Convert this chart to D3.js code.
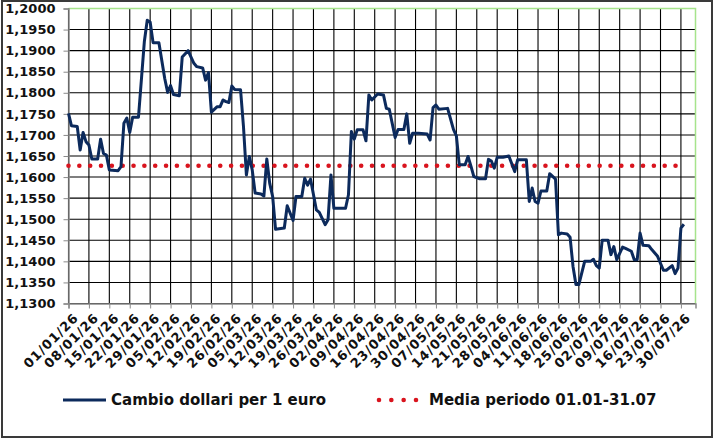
<!DOCTYPE html>
<html>
<head>
<meta charset="utf-8">
<script src="https://cdn.jsdelivr.net/npm/d3@7"></script>
<style>
  body { margin: 0; background: #fff; }
  text { font-family: "DejaVu Sans", Verdana, sans-serif; font-weight: bold; fill: #111; }
</style>
</head>
<body>
<div id="chart"></div>
<script>
// giorni rilevati (dd/mm/yy) e cambio dollari per 1 euro
var dates = [
  "01/01/26","02/01/26","04/01/26","05/01/26","06/01/26","07/01/26","08/01/26","09/01/26","11/01/26","12/01/26",
  "13/01/26","14/01/26","15/01/26","18/01/26","19/01/26","20/01/26","21/01/26","22/01/26","23/01/26","25/01/26",
  "27/01/26","28/01/26","29/01/26","30/01/26","01/02/26","03/02/26","04/02/26","05/02/26","06/02/26","08/02/26",
  "09/02/26","11/02/26","13/02/26","14/02/26","16/02/26","17/02/26","18/02/26","19/02/26","21/02/26","22/02/26",
  "23/02/26","24/02/26","25/02/26","26/02/26","27/02/26","01/03/26","02/03/26","03/03/26","04/03/26","05/03/26",
  "06/03/26","08/03/26","09/03/26","10/03/26","11/03/26","12/03/26","13/03/26","16/03/26","17/03/26","19/03/26",
  "20/03/26","22/03/26","23/03/26","24/03/26","25/03/26","27/03/26","28/03/26","30/03/26","31/03/26","01/04/26",
  "02/04/26","06/04/26","07/04/26","08/04/26","09/04/26","10/04/26","12/04/26","13/04/26","14/04/26","15/04/26",
  "17/04/26","19/04/26","20/04/26","21/04/26","23/04/26","24/04/26","26/04/26","27/04/26","28/04/26","29/04/26",
  "01/05/26","04/05/26","05/05/26","06/05/26","07/05/26","08/05/26","11/05/26","13/05/26","14/05/26","15/05/26",
  "17/05/26","18/05/26","19/05/26","20/05/26","22/05/26","24/05/26","25/05/26","26/05/26","27/05/26","28/05/26",
  "30/05/26","01/06/26","03/06/26","04/06/26","07/06/26","08/06/26","09/06/26","10/06/26","11/06/26","12/06/26",
  "14/06/26","15/06/26","17/06/26","18/06/26","19/06/26","21/06/26","22/06/26","23/06/26","24/06/26","25/06/26",
  "27/06/26","29/06/26","30/06/26","01/07/26","02/07/26","03/07/26","05/07/26","06/07/26","07/07/26","08/07/26",
  "10/07/26","11/07/26","13/07/26","14/07/26","15/07/26","16/07/26","17/07/26","19/07/26","20/07/26","22/07/26",
  "24/07/26","25/07/26","27/07/26","28/07/26","29/07/26","30/07/26","31/07/26"
];
var rates = [
  1.1751,1.1722,1.1720,1.1664,1.1706,1.1684,1.1676,1.1643,1.1643,1.1690,
  1.1656,1.1652,1.1617,1.1615,1.1625,1.1728,1.1740,1.1706,1.1742,1.1742,
  1.1921,1.1972,1.1968,1.1919,1.1919,1.1834,1.1801,1.1817,1.1796,1.1793,
  1.1885,1.1900,1.1870,1.1862,1.1859,1.1830,1.1848,1.1754,1.1767,1.1767,
  1.1783,1.1779,1.1777,1.1816,1.1808,1.1807,1.1720,1.1605,1.1649,1.1617,
  1.1562,1.1560,1.1555,1.1643,1.1585,1.1554,1.1476,1.1479,1.1532,1.1497,
  1.1554,1.1554,1.1597,1.1581,1.1595,1.1522,1.1516,1.1487,1.1499,1.1605,
  1.1526,1.1526,1.1558,1.1708,1.1690,1.1712,1.1712,1.1686,1.1795,1.1783,
  1.1797,1.1795,1.1763,1.1761,1.1694,1.1713,1.1713,1.1750,1.1680,1.1704,
  1.1704,1.1702,1.1688,1.1765,1.1771,1.1761,1.1763,1.1713,1.1698,1.1629,
  1.1629,1.1649,1.1626,1.1601,1.1596,1.1596,1.1642,1.1638,1.1621,1.1647,
  1.1647,1.1650,1.1613,1.1641,1.1641,1.1542,1.1574,1.1542,1.1538,1.1567,
  1.1567,1.1608,1.1595,1.1463,1.1467,1.1465,1.1457,1.1388,1.1345,1.1345,
  1.1400,1.1400,1.1405,1.1390,1.1384,1.1450,1.1450,1.1416,1.1435,1.1404,
  1.1434,1.1431,1.1424,1.1404,1.1404,1.1467,1.1438,1.1437,1.1428,1.1412,
  1.1379,1.1379,1.1390,1.1371,1.1384,1.1479,1.1488
];

// media del periodo 01.01-31.07
var mediaPeriodo = 1.1627;

// etichette asse x (settimanali) e asse y
var tickLabels = [
  "01/01/26","08/01/26","15/01/26","22/01/26","29/01/26","05/02/26","12/02/26","19/02/26",
  "26/02/26","05/03/26","12/03/26","19/03/26","26/03/26","02/04/26","09/04/26","16/04/26",
  "23/04/26","30/04/26","07/05/26","14/05/26","21/05/26","28/05/26","04/06/26","11/06/26",
  "18/06/26","25/06/26","02/07/26","09/07/26","16/07/26","23/07/26","30/07/26"
];
var yTicks = [1.13,1.135,1.14,1.145,1.15,1.155,1.16,1.165,1.17,1.175,1.18,1.185,1.19,1.195,1.2];
var axisEnd = "04/08/26";

var serieNome = "Cambio dollari per 1 euro";
var mediaNome = "Media periodo 01.01-31.07";

// dimensioni
var W = 716, H = 440;
var margin = {top: 8.5, right: 20.5, bottom: 136.5, left: 68.5},
    width = W - margin.left - margin.right,
    height = H - margin.top - margin.bottom;

var parse = d3.timeParse("%d/%m/%y");
var fmtNum = function(v) { return d3.format(".4f")(v).replace(".", ","); };

var data = dates.map(function(d, i) { return {date: parse(d), value: rates[i]}; });

var svg = d3.select("#chart").append("svg")
    .attr("width", W)
    .attr("height", H);

// cornice esterna
svg.append("rect")
    .attr("x", 2).attr("y", 1)
    .attr("width", 710).attr("height", 436)
    .attr("fill", "#fff")
    .attr("stroke", "#3a3a3a")
    .attr("stroke-width", 2);

var g = svg.append("g")
    .attr("transform", "translate(" + margin.left + "," + margin.top + ")");

var x = d3.scaleTime()
    .domain([parse(tickLabels[0]), parse(axisEnd)])
    .range([0, width]);

var y = d3.scaleLinear()
    .domain([1.13, 1.2])
    .range([height, 0]);

// griglia
g.append("g")
  .selectAll("line")
  .data(yTicks)
  .enter().append("line")
    .attr("x1", 0).attr("x2", width)
    .attr("y1", function(d) { return y(d); })
    .attr("y2", function(d) { return y(d); })
    .attr("stroke", "#000")
    .attr("stroke-width", 1.1);

g.append("g")
  .selectAll("line")
  .data(tickLabels)
  .enter().append("line")
    .attr("x1", function(d) { return x(parse(d)); })
    .attr("x2", function(d) { return x(parse(d)); })
    .attr("y1", 0).attr("y2", height)
    .attr("stroke", "#000")
    .attr("stroke-width", 1.1);

// bordo area grafico (alto e destra verdi)
g.append("path")
    .attr("d", "M0,0H" + width + "V" + height)
    .attr("fill", "none")
    .attr("stroke", "#a6e48c")
    .attr("stroke-width", 1.5);

// asse y
var yAxis = g.append("g")
    .call(d3.axisLeft(y).tickValues(yTicks).tickSize(5).tickPadding(8).tickFormat(fmtNum));
yAxis.select(".domain").attr("stroke", "#8a8a8a").attr("stroke-width", 1.5);
yAxis.selectAll(".tick line").attr("stroke", "#8a8a8a");
yAxis.selectAll("text")
    .style("font-size", "13px")
    .attr("fill", "#111");

// asse x
var xAxis = g.append("g")
    .attr("transform", "translate(0," + height + ")")
    .call(d3.axisBottom(x).tickValues(tickLabels.map(parse)).tickSize(5)
      .tickFormat(function(d, i) { return tickLabels[i]; }));
xAxis.select(".domain").attr("stroke", "#8a8a8a").attr("stroke-width", 1.5);
xAxis.selectAll(".tick line").attr("stroke", "#8a8a8a");
xAxis.selectAll("text")
    .style("font-size", "13px")
    .style("letter-spacing", "0.9px")
    .style("text-anchor", "end")
    .attr("fill", "#111")
    .attr("dy", "0.35em")
    .attr("transform", "translate(7,12) rotate(-45)")
    .attr("x", 0).attr("y", 0);

// media del periodo (puntini rossi)
g.append("path")
    .datum(data)
    .attr("fill", "none")
    .attr("stroke", "#d9141e")
    .attr("stroke-width", 4.6)
    .attr("stroke-linecap", "round")
    .attr("stroke-dasharray", "0 10.84")
    .attr("d", d3.line()
      .x(function(d) { return x(d.date); })
      .y(function() { return y(mediaPeriodo); }));

// linea del cambio
g.append("path")
    .datum(data)
    .attr("fill", "none")
    .attr("stroke", "#0c2a5c")
    .attr("stroke-width", 3)
    .attr("stroke-linejoin", "round")
    .attr("d", d3.line()
      .x(function(d) { return x(d.date); })
      .y(function(d) { return y(d.value); }));

// legenda
var leg = svg.append("g").attr("transform", "translate(0,400)");
leg.append("line")
    .attr("x1", 63).attr("x2", 106)
    .attr("stroke", "#0c2a5c").attr("stroke-width", 3);
leg.append("text")
    .attr("x", 111).attr("dy", "0.35em")
    .style("font-size", "15px")
    .text(serieNome);
leg.append("line")
    .attr("x1", 379).attr("x2", 416)
    .attr("stroke", "#d9141e").attr("stroke-width", 4.6)
    .attr("stroke-linecap", "round")
    .attr("stroke-dasharray", "0 12.33");
leg.append("text")
    .attr("x", 429).attr("dy", "0.35em")
    .style("font-size", "15px")
    .text(mediaNome);
</script>
</body>
</html>
